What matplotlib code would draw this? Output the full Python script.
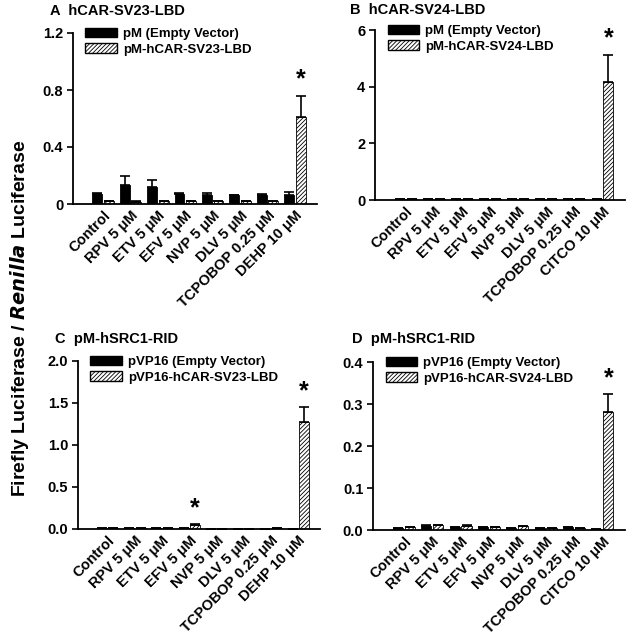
import numpy as np
import matplotlib
matplotlib.use('Agg')
import matplotlib.pyplot as plt
from matplotlib.patches import Patch

plt.rcParams['font.family'] = ['Liberation Sans', 'DejaVu Sans']
plt.rcParams['font.weight'] = 'bold'
plt.rcParams['hatch.linewidth'] = 0.6

labels_a = ['Control', 'RPV 5 \u03bcM', 'ETV 5 \u03bcM', 'EFV 5 \u03bcM', 'NVP 5 \u03bcM',
            'DLV 5 \u03bcM', 'TCPOBOP 0.25 \u03bcM', 'DEHP 10 \u03bcM']
labels_b = ['Control', 'RPV 5 \u03bcM', 'ETV 5 \u03bcM', 'EFV 5 \u03bcM', 'NVP 5 \u03bcM',
            'DLV 5 \u03bcM', 'TCPOBOP 0.25 \u03bcM', 'CITCO 10 \u03bcM']

# panel A
a_empty = [0.072, 0.13, 0.12, 0.072, 0.066, 0.061, 0.064, 0.062]
a_empty_err = [0.008, 0.07, 0.048, 0.004, 0.01, 0.003, 0.006, 0.024]
a_lbd = [0.02, 0.016, 0.02, 0.02, 0.02, 0.019, 0.02, 0.61]
a_lbd_err = [0.003, 0.002, 0.003, 0.002, 0.003, 0.002, 0.002, 0.15]
a_star = [7]

# panel B
b_empty = [0.02, 0.03, 0.04, 0.02, 0.03, 0.02, 0.02, 0.02]
b_empty_err = [0, 0, 0, 0, 0, 0, 0, 0]
b_lbd = [0.02, 0.02, 0.02, 0.02, 0.02, 0.02, 0.02, 4.15]
b_lbd_err = [0, 0, 0, 0, 0, 0, 0, 0.97]
b_star = [7]

# panel C
c_empty = [0.006, 0.006, 0.006, 0.006, 0.005, 0.005, 0.005, 0.005]
c_empty_err = [0, 0, 0, 0, 0, 0, 0, 0]
c_lbd = [0.006, 0.012, 0.012, 0.05, 0.005, 0.005, 0.008, 1.27]
c_lbd_err = [0, 0, 0, 0.006, 0, 0, 0, 0.18]
c_star = [3, 7]

# panel D
d_empty = [0.005, 0.01, 0.007, 0.006, 0.004, 0.005, 0.006, 0.003]
d_empty_err = [0.0005, 0.001, 0.001, 0.0005, 0.0005, 0.0005, 0.0005, 0.0003]
d_lbd = [0.006, 0.012, 0.01, 0.007, 0.009, 0.005, 0.005, 0.28]
d_lbd_err = [0.0005, 0.001, 0.001, 0.0005, 0.001, 0.0005, 0.0005, 0.043]
d_star = [7]

panels = [
    dict(letter='A', title='hCAR-SV23-LBD', labels=labels_a,
         empty=a_empty, empty_err=a_empty_err, lbd=a_lbd, lbd_err=a_lbd_err, star=a_star,
         leg=['pM (Empty Vector)', 'pM-hCAR-SV23-LBD'],
         ylim=1.2, yticks=[0, 0.4, 0.8, 1.2], yfmt='{:g}',
         box=(73, 33, 317, 204), tpos=(50, 11)),
    dict(letter='B', title='hCAR-SV24-LBD', labels=labels_b,
         empty=b_empty, empty_err=b_empty_err, lbd=b_lbd, lbd_err=b_lbd_err, star=b_star,
         leg=['pM (Empty Vector)', 'pM-hCAR-SV24-LBD'],
         ylim=6, yticks=[0, 2, 4, 6], yfmt='{:g}',
         box=(375, 30, 625, 200), tpos=(350, 10)),
    dict(letter='C', title='pM-hSRC1-RID', labels=labels_a,
         empty=c_empty, empty_err=c_empty_err, lbd=c_lbd, lbd_err=c_lbd_err, star=c_star,
         leg=['pVP16 (Empty Vector)', 'pVP16-hCAR-SV23-LBD'],
         ylim=2.0, yticks=[0, 0.5, 1.0, 1.5, 2.0], yfmt='{:.1f}',
         box=(78, 361, 320, 529), tpos=(55, 339)),
    dict(letter='D', title='pM-hSRC1-RID', labels=labels_b,
         empty=d_empty, empty_err=d_empty_err, lbd=d_lbd, lbd_err=d_lbd_err, star=d_star,
         leg=['pVP16 (Empty Vector)', 'pVP16-hCAR-SV24-LBD'],
         ylim=0.4, yticks=[0, 0.1, 0.2, 0.3, 0.4], yfmt='{:.1f}',
         box=(373, 362, 625, 530), tpos=(352, 339)),
]

W, H = 629, 637
fig = plt.figure(figsize=(W / 100, H / 100), dpi=100)

bw = 0.36
off = 0.21
hatch = '////////'
for p in panels:
    x0, y0, x1, y1 = p['box']
    ax = fig.add_axes([x0 / W, 1 - y1 / H, (x1 - x0) / W, (y1 - y0) / H])
    x = np.arange(len(p['labels']))
    n = len(x)
    ax.bar(x - off, p['empty'], bw, color='black', edgecolor='black', linewidth=0.6,
           yerr=[np.zeros(n), p['empty_err']], capsize=3.5,
           error_kw=dict(ecolor='black', elinewidth=1.2, capthick=1.2), zorder=2)
    ax.bar(x + off, p['lbd'], bw, color='white', edgecolor='black', linewidth=0.6,
           hatch=hatch, yerr=[np.zeros(n), p['lbd_err']], capsize=3.5,
           error_kw=dict(ecolor='black', elinewidth=1.2, capthick=1.2), zorder=2)
    for i in p['star']:
        top = p['lbd'][i] + p['lbd_err'][i]
        ax.annotate('*', (x[i] + off, top), xytext=(0, 3), textcoords='offset points',
                    ha='center', va='bottom', fontsize=18, fontweight='bold')
    ax.set_xlim(-1.09, 7.8)
    ax.set_ylim(0, p['ylim'])
    ax.set_yticks(p['yticks'])
    ax.set_yticklabels([p['yfmt'].format(v) for v in p['yticks']], fontsize=10.5, fontweight='bold')
    ax.set_xticks(x)
    ax.set_xticklabels(p['labels'], rotation=45, ha='right', va='top',
                       rotation_mode='anchor', fontsize=10.5, fontweight='bold')
    ax.tick_params(axis='x', length=0, pad=3)
    ax.tick_params(axis='y', direction='out', length=4, width=1.2, pad=3)
    ax.spines['top'].set_visible(False)
    ax.spines['right'].set_visible(False)
    ax.spines['left'].set_linewidth(1.3)
    ax.spines['bottom'].set_linewidth(1.3)
    handles = [Patch(facecolor='black', edgecolor='black'),
               Patch(facecolor='white', edgecolor='black', hatch=hatch)]
    ax.legend(handles, p['leg'], loc='upper left', bbox_to_anchor=(0.05, 1.03),
              frameon=False, borderpad=0, borderaxespad=0, handlelength=2.4,
              handleheight=0.7, handletextpad=0.45, labelspacing=0.25,
              prop=dict(size=9.5, weight='bold'))
    fig.text(p['tpos'][0] / W, 1 - p['tpos'][1] / H, p['letter'] + '  ' + p['title'],
             fontsize=10.5, fontweight='bold', va='center', ha='left')

fig.text(20 / W, 1 - 318 / H, r'Firefly Luciferase / $\it{Renilla}$ Luciferase',
         rotation=90, ha='center', va='center', fontsize=14, fontweight='bold')

fig.savefig('out.png', dpi=100, facecolor='white')
